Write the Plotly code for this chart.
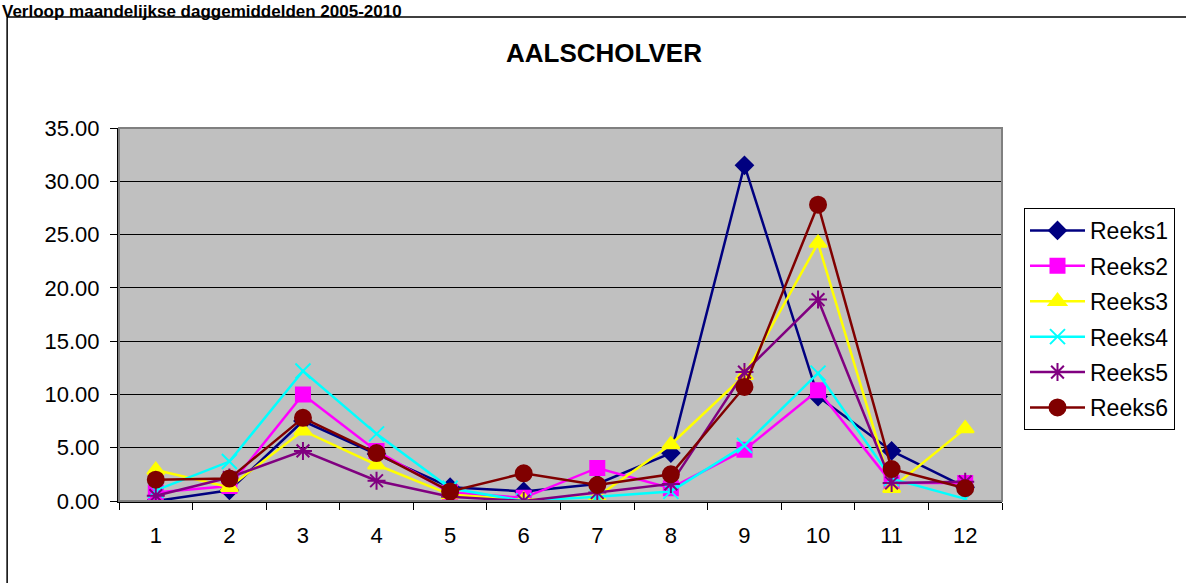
import plotly.graph_objects as go

months = ["1", "2", "3", "4", "5", "6", "7", "8", "9", "10", "11", "12"]
series_names = ["Reeks1", "Reeks2", "Reeks3", "Reeks4", "Reeks5", "Reeks6"]
reeks1 = [0.0, 1.0, 7.5, 4.4, 1.3, 0.9, 1.6, 4.5, 31.5, 9.8, 4.7, 1.3]
reeks2 = [0.8, 1.4, 10.0, 4.7, 0.8, 0.3, 3.1, 1.2, 4.8, 10.4, 1.7, 1.7]
reeks3 = [2.9, 1.3, 6.6, 3.4, 0.6, 0.1, 0.4, 5.3, 11.8, 24.2, 1.2, 6.8]
reeks4 = [1.0, 3.7, 12.2, 6.3, 1.2, 0.0, 0.4, 0.9, 5.2, 12.0, 2.1, 0.2]
reeks5 = [0.5, 2.2, 4.7, 1.9, 0.4, 0.0, 0.8, 1.6, 12.1, 18.9, 1.7, 1.8]
reeks6 = [2.0, 2.1, 7.8, 4.5, 0.9, 2.6, 1.5, 2.5, 10.7, 27.8, 3.0, 1.2]
values = [reeks1, reeks2, reeks3, reeks4, reeks5, reeks6]

colors = ["#000080", "#FF00FF", "#FFFF00", "#00FFFF", "#800080", "#800000"]
symbols = ["diamond", "square", "triangle-up", "x-thin-open", "asterisk-open", "circle"]
sizes = [13, 14, 15, 15, 15, 16]

W, H = 1186, 583
L, R, T, B = 119, 1003, 128, 501  # plot area in px
pw, ph = R - L, B - T

def px(x):
    return (x - L) / pw

def py(y):
    return (B - y) / ph

fig = go.Figure()
for name, vals, c, s, sz in zip(series_names, values, colors, symbols, sizes):
    fig.add_trace(go.Scatter(
        x=months, y=vals, name=name, mode="lines+markers",
        line=dict(color=c, width=2.5),
        marker=dict(symbol=s, size=sz, color=c, line=dict(color=c, width=2)),
        legendgroup=name,
    ))

fig.update_layout(
    width=W, height=H, autosize=False,
    margin=dict(l=L, r=W - R, t=T, b=H - B, pad=0),
    paper_bgcolor="white", plot_bgcolor="#C0C0C0",
    font=dict(family="Arial, Liberation Sans, sans-serif", size=22, color="black"),
    showlegend=True,
    legend=dict(
        x=px(1024), y=py(208), xanchor="left", yanchor="top",
        bgcolor="white", bordercolor="black", borderwidth=1,
        font=dict(size=23), tracegroupgap=2.5, itemwidth=55,
    ),
    xaxis=dict(
        type="category", range=[-0.5, 11.5], tickson="boundaries",
        ticks="outside", ticklen=7, tickcolor="black", tickwidth=1,
        showline=True, linecolor="black", linewidth=2, showgrid=False,
        ticklabelstandoff=14, fixedrange=True,
    ),
    yaxis=dict(
        range=[0, 35], dtick=5, tickformat=".2f",
        ticks="outside", ticklen=7, tickcolor="black", tickwidth=1,
        showline=True, linecolor="black", linewidth=2,
        showgrid=True, gridcolor="black", gridwidth=1, zeroline=False,
        ticklabelstandoff=6, fixedrange=True,
    ),
    shapes=[
        dict(type="rect", xref="paper", yref="paper",
             x0=px(7), x1=px(1195), y0=py(600), y1=py(17),
             line=dict(color="black", width=1.5), fillcolor="rgba(0,0,0,0)", layer="below"),
        dict(type="rect", xref="paper", yref="paper", x0=0, x1=1, y0=0, y1=1,
             line=dict(color="#808080", width=2), fillcolor="rgba(0,0,0,0)", layer="above"),
    ],
    annotations=[
        dict(text="<b>AALSCHOLVER</b>", xref="paper", yref="paper",
             x=px(605), y=py(53), xanchor="center", yanchor="middle",
             showarrow=False, font=dict(size=26)),
        dict(text="<b>Verloop maandelijkse daggemiddelden 2005-2010</b>", xref="paper", yref="paper",
             x=px(0), y=py(0), xanchor="left", yanchor="top",
             showarrow=False, font=dict(size=17)),
    ],
)

fig.write_html("out.html", config={"displayModeBar": False},
               post_script="document.body.style.margin='0px';")
